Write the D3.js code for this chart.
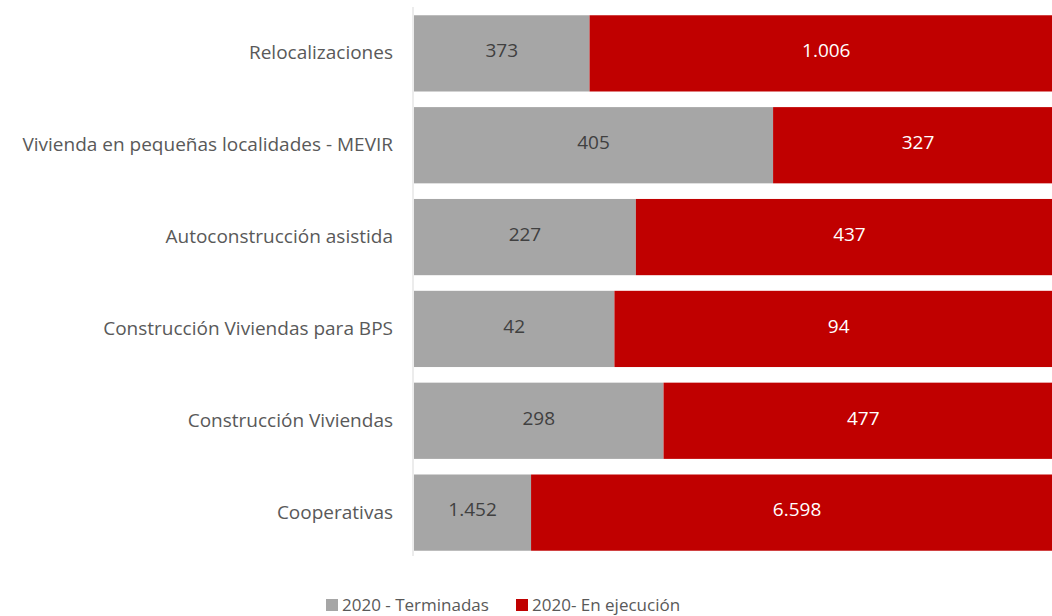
<!DOCTYPE html>
<html lang="es">
<head>
<meta charset="utf-8">
<style>
  body, html { margin: 0; padding: 0; background: #fff; }
  svg { display: block; font-family: "Open Sans", sans-serif; }
  .cat text { fill: #595959; }
  .val { font-size: 19px; }
  .legend text { fill: #595959; font-size: 17px; }
</style>
<script src="https://d3js.org/d3.v7.min.js"></script>
</head>
<body>
<svg id="chart" width="1052" height="616"></svg>
<script>
// datos
var categorias = ["Relocalizaciones", "Vivienda en pequeñas localidades - MEVIR", "Autoconstrucción asistida",
                  "Construcción Viviendas para BPS", "Construcción Viviendas", "Cooperativas"];
var terminadas = [373, 405, 227, 42, 298, 1452];
var enEjecucion = [1006, 327, 437, 94, 477, 6598];
var series = ["2020 - Terminadas", "2020- En ejecución"];
var colores = ["#a6a6a6", "#c00000"];

var svg = d3.select("#chart");
var mLeft = 414, mRight = 1063, mTop = 7, mBottom = 559;

var fmt = d3.formatLocale({decimal: ",", thousands: ".", grouping: [3]}).format(",d");

var x = d3.scaleLinear().domain([0, 1]).range([mLeft, mRight]);
var y = d3.scaleBand().domain(categorias).range([mTop, mBottom]).paddingInner(0.17).paddingOuter(0.09);

var filas = categorias.map(function(c, i) {
    var tot = terminadas[i] + enEjecucion[i];
    return [
        {cat: c, x0: 0, x1: terminadas[i] / tot, v: terminadas[i], s: 0},
        {cat: c, x0: terminadas[i] / tot, x1: 1, v: enEjecucion[i], s: 1}
    ];
});
var segs = [].concat.apply([], filas);

svg.selectAll("rect.seg")
    .data(segs)
    .enter().append("rect")
    .attr("class", "seg")
    .attr("x", function(d) { return x(d.x0); })
    .attr("y", function(d) { return y(d.cat); })
    .attr("width", function(d) { return x(d.x1) - x(d.x0); })
    .attr("height", y.bandwidth())
    .attr("fill", function(d) { return colores[d.s]; });

svg.selectAll("text.val")
    .data(segs)
    .enter().append("text")
    .attr("class", "val")
    .attr("x", function(d) { return (x(d.x0) + x(d.x1)) / 2; })
    .attr("y", function(d) { return y(d.cat) + y.bandwidth() / 2; })
    .attr("dy", "0.2em")
    .attr("text-anchor", "middle")
    .attr("fill", function(d) { return d.s == 0 ? "#404040" : "#ffffff"; })
    .text(function(d) { return fmt(d.v); });

// eje vertical
var eje = svg.append("g")
    .attr("class", "cat")
    .attr("transform", "translate(" + (mLeft - 1) + ",0)")
    .call(d3.axisLeft(y).tickSize(0).tickPadding(20));
eje.select(".domain").attr("stroke", "#d9d9d9").attr("d", "M0," + mTop + "V" + (mBottom - 3));
eje.selectAll("text").attr("font-family", "Open Sans, sans-serif").attr("font-size", 19);

// leyenda
var leg = svg.append("g").attr("class", "legend");
var legX = [326, 516];
series.forEach(function(s, i) {
    leg.append("rect").attr("x", legX[i]).attr("y", 599).attr("width", 12).attr("height", 12).attr("fill", colores[i]);
    leg.append("text").attr("x", legX[i] + 16).attr("y", 605).attr("dy", "0.35em").text(s);
});
</script>
</body>
</html>
